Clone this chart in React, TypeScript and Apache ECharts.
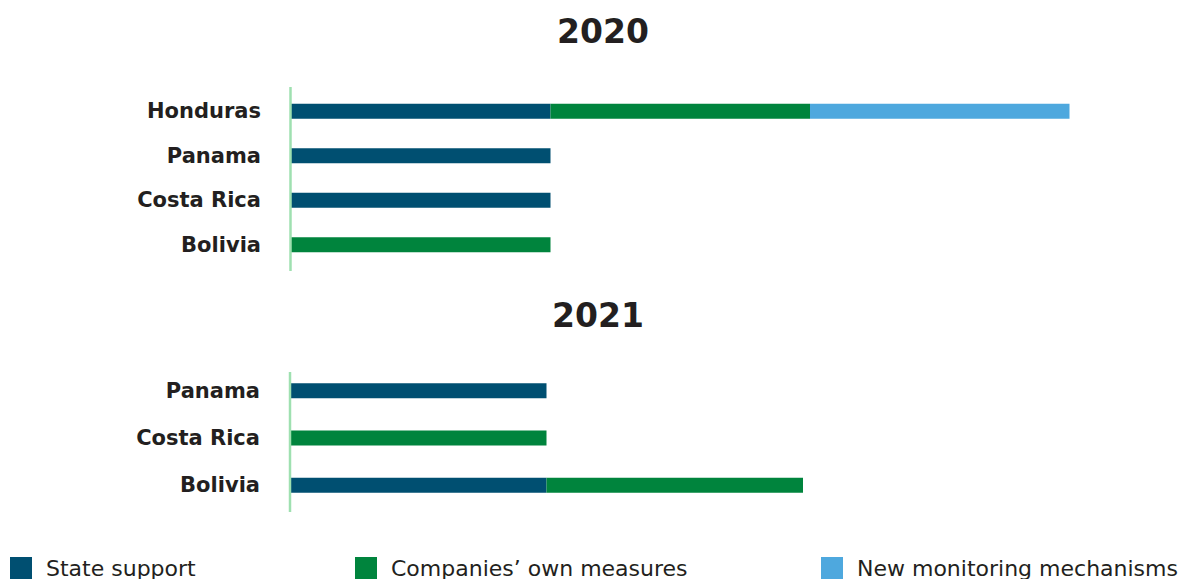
import React, { useEffect, useRef } from "react";
import * as echarts from "echarts";

const categories2020 = ["Honduras", "Panama", "Costa Rica", "Bolivia"];
const state2020 = [1, 1, 1, 0];
const companies2020 = [1, 0, 0, 1];
const monitoring2020 = [1, 0, 0, 0];

const categories2021 = ["Panama", "Costa Rica", "Bolivia"];
const state2021 = [1, 0, 1];
const companies2021 = [0, 1, 1];
const monitoring2021 = [0, 0, 0];

const seriesNames = ["State support", "Companies\u2019 own measures", "New monitoring mechanisms"];
const colors = ["#004f71", "#00843d", "#4ea8de"];
const titles = ["2020", "2021"];

export default function App() {
  const ref = useRef<HTMLDivElement>(null);
  useEffect(() => {
    document.body.style.margin = "0";
    const chart = echarts.init(ref.current!, null, { renderer: "svg" });
    const labelFont = "DejaVu Sans";
    const mkSeries = (idx: number, vals: number[][]) =>
      vals.map((v, i) => ({
        name: seriesNames[i],
        type: "bar",
        stack: "s" + idx,
        xAxisIndex: idx,
        yAxisIndex: idx,
        barWidth: 15,
        data: v,
        itemStyle: { color: colors[i] },
      }));
    chart.setOption({
      animation: false,
      color: colors,
      grid: [
        { left: 291, top: 89, width: 778.5, height: 178 },
        { left: 290, top: 367, width: 513, height: 142 },
      ],
      xAxis: [
        { type: "value", gridIndex: 0, min: 0, max: 3, show: false },
        { type: "value", gridIndex: 1, min: 0, max: 2, show: false },
      ],
      yAxis: [0, 1].map((g) => ({
        type: "category",
        gridIndex: g,
        inverse: true,
        data: g === 0 ? categories2020 : categories2021,
        axisLine: { show: false },
        axisTick: { show: false },
        splitLine: { show: false },
        axisLabel: {
          margin: 30,
          color: "#231f20",
          fontFamily: labelFont,
          fontWeight: "bold",
          fontSize: 21,
        },
      })),
      legend: seriesNames.map((n, i) => ({
        data: [n],
        left: [10, 355, 821][i],
        top: 557,
        padding: 0,
        itemWidth: 22,
        itemHeight: 22,
        icon: "rect",
        selectedMode: false,
        textStyle: {
          color: "#231f20",
          fontFamily: labelFont,
          fontSize: 22,
          padding: [0, 0, 0, 9],
        },
      })),
      graphic: [
        {
          type: "line",
          shape: { x1: 290.5, y1: 87, x2: 290.5, y2: 271 },
          style: { stroke: "#9fe0b0", lineWidth: 2.5 },
          z: 10,
        },
        {
          type: "line",
          shape: { x1: 290, y1: 372, x2: 290, y2: 512 },
          style: { stroke: "#9fe0b0", lineWidth: 2.5 },
          z: 10,
        },
        {
          type: "text",
          x: 603,
          y: 31,
          style: {
            text: titles[0],
            fill: "#231f20",
            font: "bold 33px 'DejaVu Sans'",
            textAlign: "center",
            textVerticalAlign: "middle",
          },
        },
        {
          type: "text",
          x: 598,
          y: 315,
          style: {
            text: titles[1],
            fill: "#231f20",
            font: "bold 33px 'DejaVu Sans'",
            textAlign: "center",
            textVerticalAlign: "middle",
          },
        },
      ],
      series: [
        ...mkSeries(0, [state2020, companies2020, monitoring2020]),
        ...mkSeries(1, [state2021, companies2021, monitoring2021]),
      ],
    });
    return () => chart.dispose();
  }, []);
  return <div ref={ref} style={{ width: 1183, height: 579 }} />;
}
